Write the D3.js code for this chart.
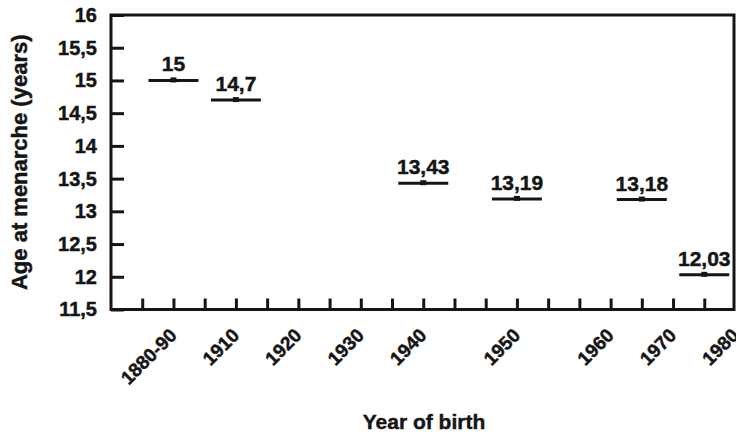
<!DOCTYPE html>
<html>
<head>
<meta charset="utf-8">
<script src="https://cdn.jsdelivr.net/npm/d3@7"></script>
<style>
  html, body { margin: 0; padding: 0; background: #fff; }
  text { font-family: "Liberation Sans", Arial, sans-serif; font-weight: bold; fill: #151515; stroke: #151515; stroke-width: 0.45px; }
</style>
</head>
<body>
<script>
// ---- data ----
const xTickLabels = ["1880-90", "1910", "1920", "1930", "1940", "1950", "1960", "1970", "1980"];
const xLabelSlots = [2, 4, 6, 8, 10, 13, 16, 18, 20];
const pointSlots = [2, 4, 10, 13, 17, 19];
const ageValues = [15, 14.7, 13.43, 13.19, 13.18, 12.03];
const valueLabels = ["15", "14,7", "13,43", "13,19", "13,18", "12,03"];
const yTickValues = [11.5, 12, 12.5, 13, 13.5, 14, 14.5, 15, 15.5, 16];
const yTickLabels = ["11,5", "12", "12,5", "13", "13,5", "14", "14,5", "15", "15,5", "16"];
const slotCount = 20;

const W = 736, H = 435;
const mLeft = 111, mRight = 734, mTop = 15, mBottom = 309.5;
const ink = "#151515";

const svg = d3.select("body").append("svg").attr("width", W).attr("height", H);

const x = d3.scaleLinear().domain([0, slotCount]).range([mLeft, 735.5]);
const y = d3.scaleLinear().domain([11.5, 16]).range([mBottom, mTop]);

// y axis (ticks inward)
const yAxis = d3.axisLeft(y)
  .tickValues(yTickValues)
  .tickSizeInner(-13)
  .tickSizeOuter(0)
  .tickPadding(14)
  .tickFormat((d, i) => yTickLabels[i]);
const gy = svg.append("g").attr("transform", `translate(${mLeft},0)`).call(yAxis);
gy.select(".domain").remove();
gy.selectAll(".tick line").attr("stroke", ink).attr("stroke-width", 3);
gy.selectAll(".tick text").style("font-size", "20px").attr("fill", ink);

// x axis ticks (inward)
const xTicks = d3.axisBottom(x)
  .tickValues(d3.range(1, slotCount))
  .tickSizeInner(-11)
  .tickSizeOuter(0)
  .tickFormat("");
const gx = svg.append("g").attr("transform", `translate(0,${mBottom})`).call(xTicks);
gx.select(".domain").remove();
gx.selectAll(".tick line").attr("stroke", ink).attr("stroke-width", 3);

// x labels (rotated)
const xLabAxis = d3.axisBottom(x)
  .tickValues(xLabelSlots)
  .tickSize(0)
  .tickFormat((d, i) => xTickLabels[i]);
const gxl = svg.append("g").attr("transform", `translate(0,${mBottom})`).call(xLabAxis);
gxl.select(".domain").remove();
gxl.selectAll(".tick text")
  .attr("x", 0).attr("y", 0).attr("dy", 0)
  .attr("text-anchor", "end")
  .attr("transform", "translate(4,27) rotate(-45)")
  .style("font-size", "19px")
  .attr("fill", ink);

// frame
svg.append("rect")
  .attr("x", mLeft).attr("y", mTop)
  .attr("width", mRight - mLeft).attr("height", mBottom - mTop)
  .attr("fill", "none").attr("stroke", ink).attr("stroke-width", 3);

// data marks
const pts = ageValues.map((v, i) => ({ slot: pointSlots[i], v, label: valueLabels[i] }));
const halfLen = 25;
const marks = svg.append("g");
marks.selectAll("line.seg").data(pts).join("line")
  .attr("class", "seg")
  .attr("x1", d => x(d.slot) - halfLen)
  .attr("x2", d => x(d.slot) + halfLen)
  .attr("y1", d => y(d.v))
  .attr("y2", d => y(d.v))
  .attr("stroke", ink).attr("stroke-width", 3);
marks.selectAll("rect.dot").data(pts).join("rect")
  .attr("class", "dot")
  .attr("x", d => x(d.slot) - 3)
  .attr("y", d => y(d.v) - 3)
  .attr("width", 6).attr("height", 5)
  .attr("fill", ink);
marks.selectAll("text.val").data(pts).join("text")
  .attr("class", "val")
  .attr("x", d => x(d.slot))
  .attr("y", d => y(d.v) - 9)
  .attr("text-anchor", "middle")
  .style("font-size", "21px")
  .text(d => d.label);

// axis titles
svg.append("text")
  .attr("transform", `translate(27,${(mTop + mBottom) / 2}) rotate(-90)`)
  .attr("text-anchor", "middle")
  .style("font-size", "22px")
  .text("Age at menarche (years)");
svg.append("text")
  .attr("x", 424).attr("y", 429)
  .attr("text-anchor", "middle")
  .style("font-size", "21px")
  .text("Year of birth");
</script>
</body>
</html>
